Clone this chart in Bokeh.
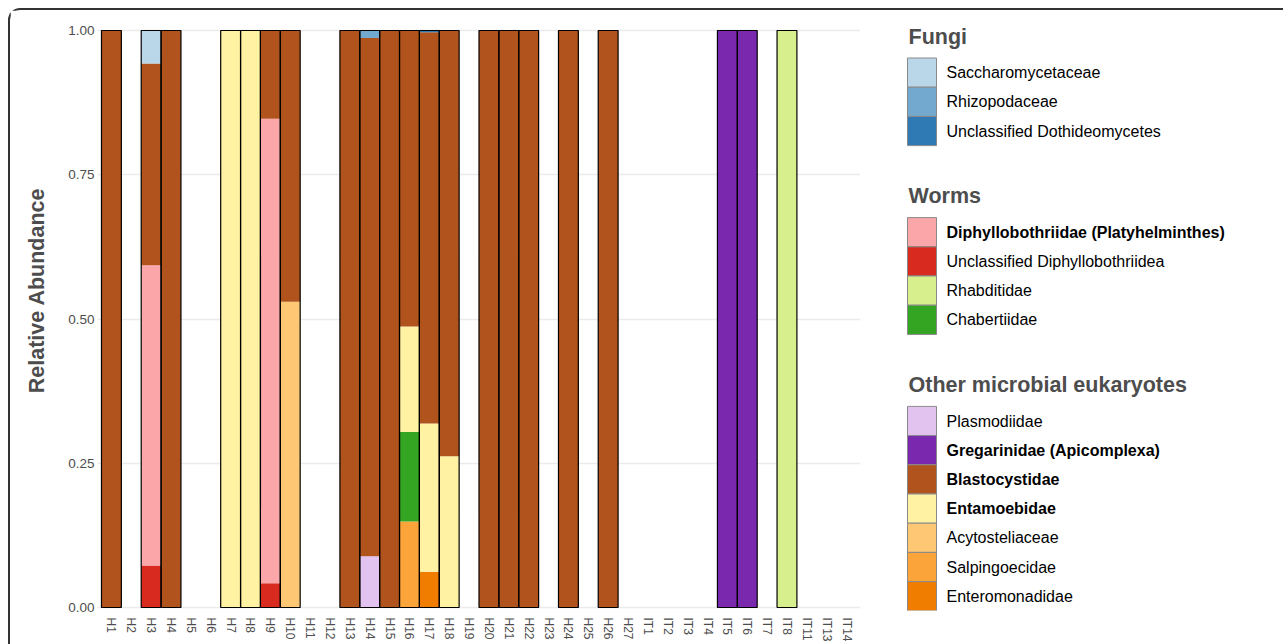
import math
from bokeh.plotting import figure
from bokeh.models import FactorRange, Range1d, FixedTicker, ColumnDataSource, NumeralTickFormatter
from bokeh.layouts import row
from bokeh.embed import file_html
from bokeh.resources import INLINE
from bokeh.core.properties import value

FONT = "Liberation Sans"

samples = ["H1", "H2", "H3", "H4", "H5", "H6", "H7", "H8", "H9", "H10", "H11", "H12", "H13",
           "H14", "H15", "H16", "H17", "H18", "H19", "H20", "H21", "H22", "H23", "H24", "H25",
           "H26", "H27", "IT1", "IT2", "IT3", "IT4", "IT5", "IT6", "IT7", "IT8", "IT11", "IT13", "IT14"]

#                      H1   H2   H3     H4   H5 H6 H7   H8   H9     H10    H11 H12 H13  H14    H15  H16    H17    H18    H19 H20 H21 H22 H23 H24 H25 H26 H27 IT1-4      IT5 IT6 IT7 IT8 IT11 IT13 IT14
saccharomycetaceae = [0,   0,   0.057, 0,   0, 0, 0,   0,   0,     0,     0,  0,  0,   0,     0,   0,     0,     0,     0,  0,  0,  0,  0,  0,  0,  0,  0,  0, 0, 0, 0, 0,  0,  0,  0,  0,   0,   0]
rhizopodaceae =      [0,   0,   0,     0,   0, 0, 0,   0,   0,     0,     0,  0,  0,   0.013, 0,   0,     0,     0,     0,  0,  0,  0,  0,  0,  0,  0,  0,  0, 0, 0, 0, 0,  0,  0,  0,  0,   0,   0]
dothideomycetes =    [0,   0,   0,     0,   0, 0, 0,   0,   0,     0,     0,  0,  0,   0,     0,   0,     0.003, 0,     0,  0,  0,  0,  0,  0,  0,  0,  0,  0, 0, 0, 0, 0,  0,  0,  0,  0,   0,   0]
diphyllobothriidae = [0,   0,   0.520, 0,   0, 0, 0,   0,   0.805, 0,     0,  0,  0,   0,     0,   0,     0,     0,     0,  0,  0,  0,  0,  0,  0,  0,  0,  0, 0, 0, 0, 0,  0,  0,  0,  0,   0,   0]
uncl_diphyllobothriidea = [0, 0, 0.073, 0,   0, 0, 0,   0,   0.042, 0,     0,  0,  0,   0,     0,   0,     0,     0,     0,  0,  0,  0,  0,  0,  0,  0,  0,  0, 0, 0, 0, 0,  0,  0,  0,  0,   0,   0]
rhabditidae =        [0,   0,   0,     0,   0, 0, 0,   0,   0,     0,     0,  0,  0,   0,     0,   0,     0,     0,     0,  0,  0,  0,  0,  0,  0,  0,  0,  0, 0, 0, 0, 0,  0,  0,  1,  0,   0,   0]
chabertiidae =       [0,   0,   0,     0,   0, 0, 0,   0,   0,     0,     0,  0,  0,   0,     0,   0.155, 0,     0,     0,  0,  0,  0,  0,  0,  0,  0,  0,  0, 0, 0, 0, 0,  0,  0,  0,  0,   0,   0]
plasmodiidae =       [0,   0,   0,     0,   0, 0, 0,   0,   0,     0,     0,  0,  0,   0.089, 0,   0,     0,     0,     0,  0,  0,  0,  0,  0,  0,  0,  0,  0, 0, 0, 0, 0,  0,  0,  0,  0,   0,   0]
gregarinidae =       [0,   0,   0,     0,   0, 0, 0,   0,   0,     0,     0,  0,  0,   0,     0,   0,     0,     0,     0,  0,  0,  0,  0,  0,  0,  0,  0,  0, 0, 0, 0, 1,  1,  0,  0,  0,   0,   0]
blastocystidae =     [1,   0,   0.350, 1,   0, 0, 0,   0,   0.153, 0.470, 0,  0,  1,   0.898, 1,   0.513, 0.678, 0.738, 0,  1,  1,  1,  0,  1,  0,  1,  0,  0, 0, 0, 0, 0,  0,  0,  0,  0,   0,   0]
entamoebidae =       [0,   0,   0,     0,   0, 0, 1,   1,   0,     0,     0,  0,  0,   0,     0,   0.183, 0.257, 0.262, 0,  0,  0,  0,  0,  0,  0,  0,  0,  0, 0, 0, 0, 0,  0,  0,  0,  0,   0,   0]
acytosteliaceae =    [0,   0,   0,     0,   0, 0, 0,   0,   0,     0.530, 0,  0,  0,   0,     0,   0,     0,     0,     0,  0,  0,  0,  0,  0,  0,  0,  0,  0, 0, 0, 0, 0,  0,  0,  0,  0,   0,   0]
salpingoecidae =     [0,   0,   0,     0,   0, 0, 0,   0,   0,     0,     0,  0,  0,   0,     0,   0.149, 0,     0,     0,  0,  0,  0,  0,  0,  0,  0,  0,  0, 0, 0, 0, 0,  0,  0,  0,  0,   0,   0]
enteromonadidae =    [0,   0,   0,     0,   0, 0, 0,   0,   0,     0,     0,  0,  0,   0,     0,   0,     0.062, 0,     0,  0,  0,  0,  0,  0,  0,  0,  0,  0, 0, 0, 0, 0,  0,  0,  0,  0,   0,   0]

taxa = {
    "Saccharomycetaceae": (saccharomycetaceae, "#b9d7e8"),
    "Rhizopodaceae": (rhizopodaceae, "#74a9cf"),
    "Unclassified Dothideomycetes": (dothideomycetes, "#2f7ab5"),
    "Diphyllobothriidae (Platyhelminthes)": (diphyllobothriidae, "#fba6a8"),
    "Unclassified Diphyllobothriidea": (uncl_diphyllobothriidea, "#d92a1f"),
    "Rhabditidae": (rhabditidae, "#d8ef8e"),
    "Chabertiidae": (chabertiidae, "#33a523"),
    "Plasmodiidae": (plasmodiidae, "#e2c2ef"),
    "Gregarinidae (Apicomplexa)": (gregarinidae, "#7a28ae"),
    "Blastocystidae": (blastocystidae, "#b0531c"),
    "Entamoebidae": (entamoebidae, "#fff2a3"),
    "Acytosteliaceae": (acytosteliaceae, "#fdc774"),
    "Salpingoecidae": (salpingoecidae, "#fba43a"),
    "Enteromonadidae": (enteromonadidae, "#f07c00"),
}

legend_groups = [
    ("Fungi", ["Saccharomycetaceae", "Rhizopodaceae", "Unclassified Dothideomycetes"]),
    ("Worms", ["Diphyllobothriidae (Platyhelminthes)", "Unclassified Diphyllobothriidea",
               "Rhabditidae", "Chabertiidae"]),
    ("Other microbial eukaryotes", ["Plasmodiidae", "Gregarinidae (Apicomplexa)", "Blastocystidae",
                                    "Entamoebidae", "Acytosteliaceae", "Salpingoecidae",
                                    "Enteromonadidae"]),
]
bold_taxa = ["Diphyllobothriidae (Platyhelminthes)", "Gregarinidae (Apicomplexa)",
             "Blastocystidae", "Entamoebidae"]

y_title = "Relative Abundance"

# stacking order, bottom to top
stack_order = ["Enteromonadidae", "Salpingoecidae", "Acytosteliaceae", "Chabertiidae",
               "Unclassified Diphyllobothriidea", "Diphyllobothriidae (Platyhelminthes)",
               "Plasmodiidae", "Rhabditidae", "Gregarinidae (Apicomplexa)", "Entamoebidae",
               "Blastocystidae", "Unclassified Dothideomycetes", "Rhizopodaceae",
               "Saccharomycetaceae"]

# page layout: canvas starts at page x=10, y=10; frames span page y 22..610
FRAME_TOP, FRAME_BOT = 22, 610
TW = 50          # width of the y-title strip
MW = 823         # width of the main chart
LW = 400         # width of the legend panel

# ---------------- y-axis title strip ----------------
tf = figure(width=TW, height=634, x_range=Range1d(10, 10 + TW), y_range=Range1d(FRAME_BOT, FRAME_TOP),
            toolbar_location=None, output_backend="svg", x_axis_type=None, y_axis_type=None,
            min_border_left=0, min_border_right=0, min_border_top=12, min_border_bottom=34)
tf.outline_line_color = None
tf.xgrid.visible = False
tf.ygrid.visible = False
tf.text(x=[36.5], y=[290], text=[y_title], angle=math.pi / 2, text_font=value(FONT),
        text_font_style="bold", text_font_size="21.5px", text_color="#4d4d4d",
        text_align="center", text_baseline="middle")

# ---------------- main plot ----------------
data = {"sample": samples}
for name in stack_order:
    data[name] = taxa[name][0]
src = ColumnDataSource(data)

p = figure(x_range=FactorRange(factors=samples, range_padding=0.2, range_padding_units="absolute"),
           y_range=Range1d(-0.0052, 1.0139),
           width=MW, height=634, toolbar_location=None, output_backend="svg",
           min_border_left=37, min_border_right=23, min_border_top=12, min_border_bottom=34)

p.vbar_stack(stack_order, x="sample", width=1.0, source=src,
             fill_color=[taxa[n][1] for n in stack_order], line_color=None)

totals = [sum(taxa[n][0][i] for n in stack_order) for i in range(len(samples))]
tot_x = [s for s, t in zip(samples, totals) if t > 0]
tot_y = [t for t in totals if t > 0]
p.vbar(x=tot_x, top=tot_y, width=1.0, fill_color=None, line_color="black", line_width=1.2)

p.outline_line_color = None
p.xgrid.visible = False
p.ygrid.grid_line_color = "#ebebeb"
p.ygrid.grid_line_width = 1.5

for ax in (p.xaxis[0], p.yaxis[0]):
    ax.axis_line_color = None
    ax.major_tick_line_color = None
    ax.minor_tick_line_color = None
    ax.major_tick_out = 0
    ax.major_tick_in = 0
    ax.major_label_text_font = FONT
    ax.major_label_text_color = "#4d4d4d"

p.xaxis.major_label_orientation = -math.pi / 2
p.xaxis.major_label_text_font_size = "12px"
p.xaxis.major_label_standoff = 7

p.yaxis.ticker = FixedTicker(ticks=[0, 0.25, 0.5, 0.75, 1.0])
p.yaxis.formatter = NumeralTickFormatter(format="0.00")
p.yaxis.major_label_text_font_size = "13.5px"
p.yaxis.major_label_standoff = 3

# ---------------- legend panel (coordinates = page pixels) ----------------
X0 = 10 + TW + MW
lg = figure(width=LW, height=634, x_range=Range1d(X0, X0 + LW), y_range=Range1d(FRAME_BOT, FRAME_TOP),
            toolbar_location=None, output_backend="svg", x_axis_type=None, y_axis_type=None,
            min_border_left=0, min_border_right=0, min_border_top=12, min_border_bottom=34)
lg.outline_line_color = None
lg.xgrid.visible = False
lg.ygrid.visible = False

key_left, key_w, key_h = 907, 29, 29.2
text_x, title_x = 946, 908
title_y = 36
t_x, t_y, t_text = [], [], []
kx, ktop, kbot, kcol = [], [], [], []
lab_norm = {"x": [], "y": [], "t": []}
lab_bold = {"x": [], "y": [], "t": []}
for title, names in legend_groups:
    t_x.append(title_x); t_y.append(title_y); t_text.append(title)
    top = title_y + 21.5
    for n in names:
        kx.append(key_left); ktop.append(top); kbot.append(top + key_h); kcol.append(taxa[n][1])
        d = lab_bold if n in bold_taxa else lab_norm
        d["x"].append(text_x); d["y"].append(top + key_h / 2); d["t"].append(n)
        top += key_h
    title_y = top + 50.5

lg.quad(left=kx, right=[k + key_w for k in kx], top=ktop, bottom=kbot,
        fill_color=kcol, line_color="#8a8a8a", line_width=1)
lg.text(x=t_x, y=t_y, text=t_text, text_font=value(FONT), text_font_style="bold",
        text_font_size="21.5px", text_color="#4d4d4d", text_baseline="middle")
lg.text(x=lab_norm["x"], y=lab_norm["y"], text=lab_norm["t"], text_font=value(FONT),
        text_font_size="16px", text_color="black", text_baseline="middle")
lg.text(x=lab_bold["x"], y=lab_bold["y"], text=lab_bold["t"], text_font=value(FONT),
        text_font_style="bold", text_font_size="16px", text_color="black", text_baseline="middle")

layout = row(tf, p, lg, margin=(8, 0, 0, 8))
layout.styles = {"border-top": "2px solid #333333", "border-left": "2px solid #333333",
                 "border-top-left-radius": "12px"}
open("out.html", "w").write(file_html(layout, INLINE))
